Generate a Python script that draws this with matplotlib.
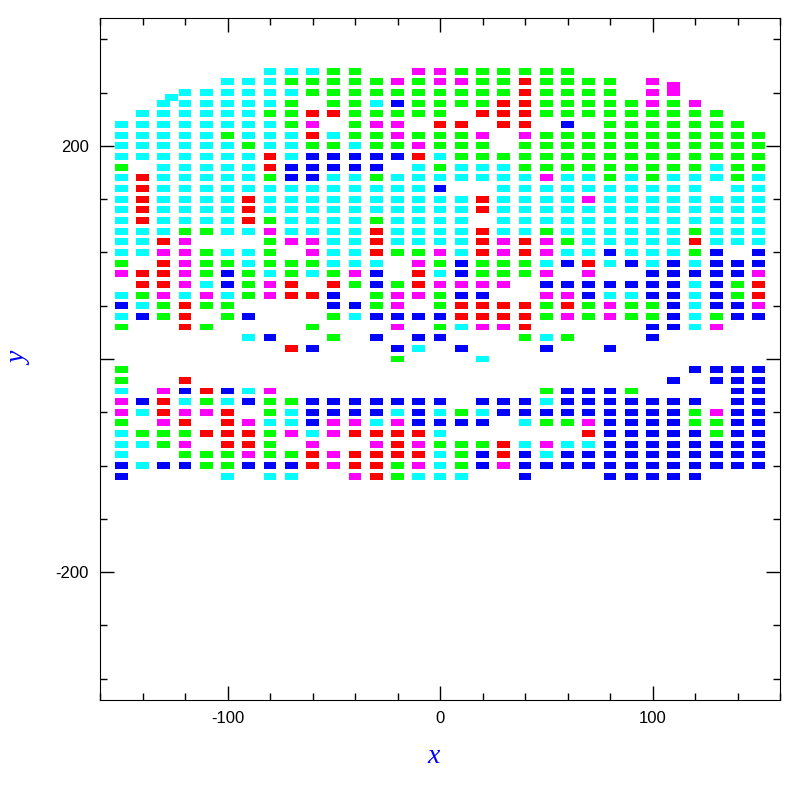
import numpy as np
import matplotlib.pyplot as plt
from matplotlib.ticker import MultipleLocator, FuncFormatter

plt.rcParams["axes.unicode_minus"] = False

# posiciones de la rejilla
x_grid = np.arange(-150, 151, 10)
y_rows = np.arange(270, -111, -10)

# codigo de color por celda (columnas -150..150), '.' = vacio
rows = [
    ".......c" + "ccgg..mm" + "gggggg.." + ".......",   # 270
    ".....ccc" + "gggggmgm" + "mggrgggg" + ".m.....",   # 260
    "...ccccc" + "cggggggg" + "gggrgggg" + ".m.....",   # 250
    "..cccccc" + "g.ggcbgg" + "ggrrgggg" + "gmgm...",   # 240
    ".ccccccg" + "grrggggg" + ".rrrgggg" + "ggggg..",   # 230
    "cccccccc" + "gm.gmm.r" + "r.rr.b.g" + "gggggg.",   # 220
    "cccccgcc" + "crcggmgg" + "gm.mgggg" + "ggggggg",   # 210
    "ccccccgc" + "cggcggmg" + "gg.ggggg" + "ggggggg",   # 200
    "cccccccr" + "cbbbbbrc" + "gggggggg" + "ggggggg",   # 190
    "g.cccccr" + "bbbbb.cg" + "cccggggg" + "ggggcgg",   # 180
    "crcccccg" + "bbccgccc" + "ccccmccg" + "cgcccgc",   # 170
    "crcccccc" + "cccccccb" + "..cccccc" + "cccc.cc",   # 160
    "crccccrc" + "cccccccc" + "crccccmc" + "ccccccc",   # 150
    "crccccrc" + "cccccccc" + "crcccccc" + "ccccccc",   # 140
    "crccccrg" + "ccccgccc" + "c.cccccc" + "ccccccc",   # 130
    "cccggccm" + "ccccrccc" + "crccgccc" + "cccgccc",   # 120
    "ccrm...g" + "mmccrccc" + "crmrmgcc" + "cccrccc",   # 110
    "ccmmgccg" + ".mccrggm" + "crmrmccb" + "cccgb.b",   # 100
    "g.rmggcg" + "ggccc.mg" + "bgggcbrc" + "bcbcbbb",   # 90
    "mrrmgbgc" + "gcgmb.rc" + "bgggm.m." + ".bbbbbm",   # 80
    ".rrmcbgm" + "r.rgbgrm" + "mmm.bbbb" + "bbbcbgr",   # 70
    "cgmcmcgm" + "rrb.gmmg" + "bb..mmbc" + "cbbcbgr",   # 60
    "bcgrgg.." + "..bbgm.g" + "rrrrgrgm" + "ggbcbbm",   # 50
    "cbgr.gb." + "..gcbbbb" + "rrrrgmgm" + "ggbcgbb",   # 40
    "g..rg..." + ".g...m.g" + "cmmr...." + ".bbcm..",   # 30
    "......cb" + "..g.b.bb" + "...gcg.." + ".b.....",   # 20
    "........" + "rb...bc." + "b...b..b" + ".......",   # 10
    "........" + ".....g.." + ".c......" + ".......",   # 0
    "g......." + "........" + "........" + "...bbbb",   # -10
    "g..r...." + "........" + "........" + "..b.bbb",   # -20
    "c.mbrbcm" + "........" + "....gbbb" + "g....bb",   # -30
    "mbrcgcbg" + "gbbbbbbb" + ".bbbcbbb" + "bbbb.bb",   # -40
    "mcrmmr.g" + "cbbbbcbc" + "gcbbbbbb" + "bbbgmbb",   # -50
    "g.mr.rmc" + "cbmmcmbb" + "bb.cggmb" + "bbbggbb",   # -60
    "cgggrrrg" + "mcmrrrrc" + "......rb" + "bbbbgbb",   # -70
    "ccgm.rrg" + ".m..mrmg" + "ggrcmccb" + "bbbbbbb",   # -80
    "c..gggmg" + "grmrrrrc" + "gbrbcbbb" + "bbbbbbb",   # -90
    "bcbbggbb" + "brmrrgmc" + "gbmbbbbb" + "bbbbbbb",   # -100
    "b....c.c" + "c..mrgcc" + "c..b...b" + "bbbb...",   # -110
]

# celdas sueltas fuera de la rejilla
extra_x = [-126.5, 110]
extra_y = [245.5, 253.5]
extra_h = [6.5, 13.0]
extra_code = ["c", "m"]

colores = {"c": "#00ffff", "g": "#00ff00", "r": "#ff0000",
           "b": "#0000ff", "m": "#ff00ff"}

xs, ys, hs, cs = [], [], [], []
for y, fila in zip(y_rows, rows):
    for x, code in zip(x_grid, fila):
        if code != ".":
            xs.append(x)
            ys.append(y)
            hs.append(6.5)
            cs.append(colores[code])
for x, y, h, code in zip(extra_x, extra_y, extra_h, extra_code):
    xs.append(x)
    ys.append(y)
    hs.append(h)
    cs.append(colores[code])

xs = np.array(xs)
ys = np.array(ys)
hs = np.array(hs)

fig = plt.figure(figsize=(7.97, 7.97), dpi=100)
ax = fig.add_axes([100 / 797, 97 / 797, 680 / 797, 682 / 797])
ax.bar(xs, hs, width=6, bottom=ys - hs / 2, color=cs, linewidth=0)

ax.set_xlim(-160, 160)
ax.set_ylim(-320, 320)
ax.xaxis.set_major_locator(MultipleLocator(100))
ax.xaxis.set_minor_locator(MultipleLocator(20))
ax.yaxis.set_major_locator(MultipleLocator(200))
ax.yaxis.set_minor_locator(MultipleLocator(50))
# el eje y solo rotula -200 y 200
ax.yaxis.set_major_formatter(FuncFormatter(lambda v, p: "" if v == 0 else "%d" % v))
ax.tick_params(which="both", direction="in", top=True, right=True, width=1)
ax.tick_params(which="major", length=10, pad=8, labelsize=12)
ax.tick_params(which="minor", length=5)
for lab in ax.get_xticklabels() + ax.get_yticklabels():
    lab.set_family("Liberation Sans")

ax.set_xlabel("x", color="blue", fontsize=20, fontstyle="italic", family="Liberation Serif")
ax.set_ylabel("y", color="blue", fontsize=20, fontstyle="italic", family="Liberation Serif")
ax.xaxis.set_label_coords(0.49, -0.065)
ax.yaxis.set_label_coords(-0.10, 0.5)

fig.savefig("out.png", dpi=100)
